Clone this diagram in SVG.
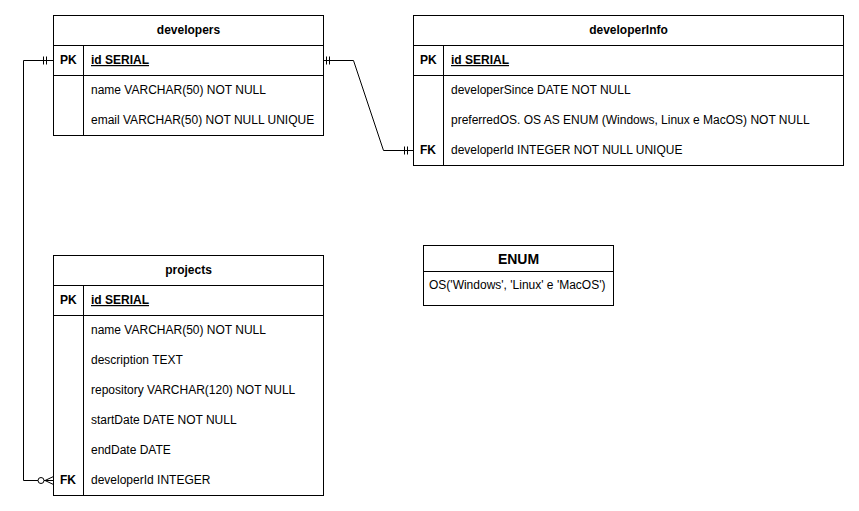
<svg xmlns="http://www.w3.org/2000/svg" width="859" height="511" viewBox="0 0 859 511">
<style>
text{font-family:"Liberation Sans",Arial,sans-serif;font-size:12px;fill:#000}
.b{font-weight:bold}
.t{font-weight:bold;text-anchor:middle}
.u{font-weight:bold;text-decoration:underline}
.box{fill:#fff;stroke:#000;stroke-width:1}
.ln{stroke:#000;stroke-width:1;fill:none}
</style>
<rect width="859" height="511" fill="#fff"/>
<g id="connectors">
<path class="ln" d="M53.5,60.5 H23.5 V480.5 H53.5"/>
<path class="ln" d="M43.5,56.5 V64.5 M46.5,56.5 V64.5"/>
<circle cx="41" cy="480.5" r="3" fill="#fff" stroke="#000"/>
<path class="ln" d="M53.5,476.5 L45,480.5 L53.5,484.5"/>
<path class="ln" d="M323.5,60.5 H353.5 L383.5,150.5 H413.5"/>
<path class="ln" d="M326.5,56.5 V64.5 M329.5,56.5 V64.5"/>
<path class="ln" d="M404.5,146.5 V154.5 M407.5,146.5 V154.5"/>
</g>
<g id="developers">
<rect class="box" x="53.5" y="15.5" width="270" height="120"/>
<path class="ln" d="M53.5,45.5 H323.5 M53.5,75.5 H323.5 M83.5,45.5 V135.5"/>
<text class="t" x="188.5" y="34">developers</text>
<text class="b" x="60" y="64">PK</text>
<text class="u" x="91" y="64">id SERIAL</text>
<text x="91" y="94">name VARCHAR(50) NOT NULL</text>
<text x="91" y="124">email VARCHAR(50) NOT NULL UNIQUE</text>
</g>
<g id="developerInfo">
<rect class="box" x="413.5" y="15.5" width="430" height="150"/>
<path class="ln" d="M413.5,45.5 H843.5 M413.5,75.5 H843.5 M443.5,45.5 V165.5"/>
<text class="t" x="628.5" y="34">developerInfo</text>
<text class="b" x="420" y="64">PK</text>
<text class="u" x="451" y="64">id SERIAL</text>
<text x="451" y="94">developerSince DATE NOT NULL</text>
<text x="451" y="124">preferredOS. OS AS ENUM (Windows, Linux e MacOS) NOT NULL</text>
<text class="b" x="420" y="154">FK</text>
<text x="451" y="154">developerId INTEGER NOT NULL UNIQUE</text>
</g>
<g id="projects">
<rect class="box" x="53.5" y="255.5" width="270" height="240"/>
<path class="ln" d="M53.5,285.5 H323.5 M53.5,315.5 H323.5 M83.5,285.5 V495.5"/>
<text class="t" x="188.5" y="274">projects</text>
<text class="b" x="60" y="304">PK</text>
<text class="u" x="91" y="304">id SERIAL</text>
<text x="91" y="334">name VARCHAR(50) NOT NULL</text>
<text x="91" y="364">description TEXT</text>
<text x="91" y="394">repository VARCHAR(120) NOT NULL</text>
<text x="91" y="424">startDate DATE NOT NULL</text>
<text x="91" y="454">endDate DATE</text>
<text class="b" x="60" y="484">FK</text>
<text x="91" y="484">developerId INTEGER</text>
</g>
<g id="enum">
<rect class="box" x="423.5" y="245.5" width="190" height="60"/>
<path class="ln" d="M423.5,271.5 H613.5"/>
<text class="t" x="518.5" y="264" style="font-size:14px">ENUM</text>
<text x="429" y="289">OS('Windows', 'Linux' e 'MacOS')</text>
</g>
</svg>
